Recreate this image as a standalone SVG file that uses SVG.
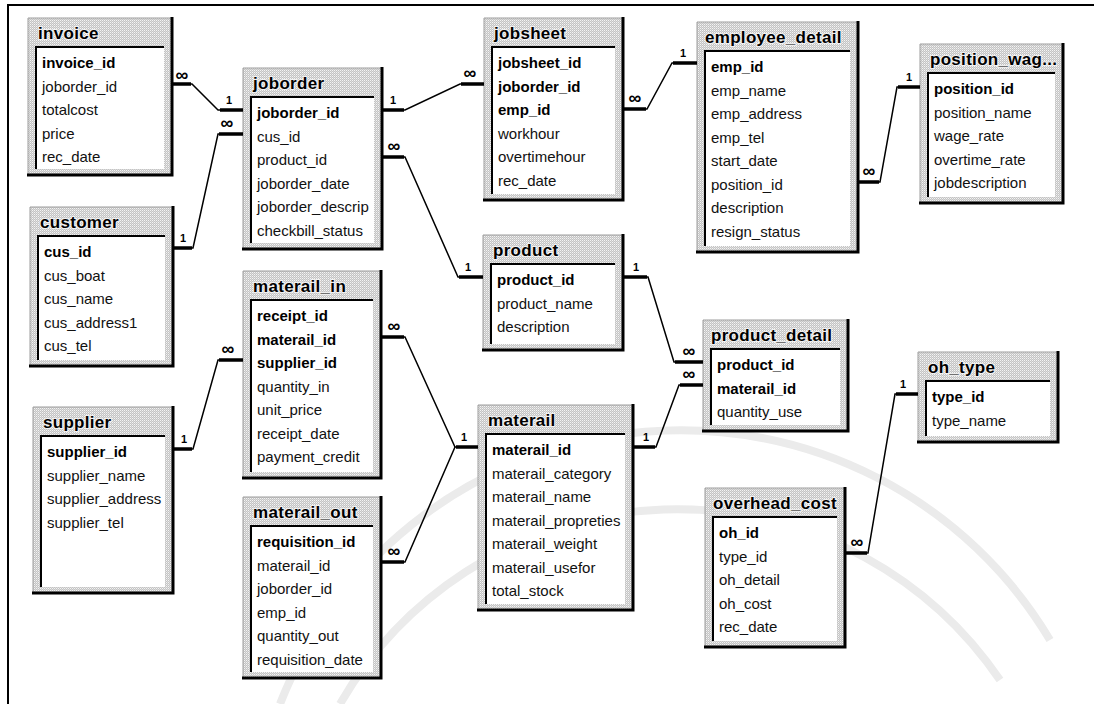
<svg xmlns="http://www.w3.org/2000/svg" width="1094" height="704" viewBox="0 0 1094 704">
<defs>
<pattern id="dith" width="2" height="2" patternUnits="userSpaceOnUse"><rect width="2" height="2" fill="#c4c4c4"/><rect width="1" height="1" fill="#f4f4f4"/><rect x="1" y="1" width="1" height="1" fill="#dadada"/></pattern>
<style>
.frame{fill:url(#dith)}
.list{fill:#fff}
.edge{fill:none;stroke:#9c9c9c;stroke-width:1}
.inset{fill:none;stroke:#000;stroke-width:2}
.shadow{fill:none;stroke:#000;stroke-width:3}
.t{font-family:"Liberation Sans",Arial,sans-serif;font-size:17px;font-weight:bold;letter-spacing:0.3px;fill:#000;stroke:#f2f2f2;stroke-width:2;paint-order:stroke}
.f{font-family:"Liberation Sans",Arial,sans-serif;font-size:15px;fill:#111}
.k{font-weight:bold;fill:#000}
.rel{fill:none;stroke:#000;stroke-width:1.5}
.end{fill:none;stroke:#000;stroke-width:3.5}
.one{font-family:"Liberation Sans",Arial,sans-serif;font-size:11px;font-weight:bold;text-anchor:middle}
.many{font-family:"Liberation Sans",Arial,sans-serif;font-size:18px;font-weight:bold;text-anchor:middle}
.wm{fill:none;stroke:#ebebeb;stroke-width:8}
.border{fill:none;stroke:#000;stroke-width:2}
</style>
</defs>
<rect width="1094" height="704" fill="#fff"/>
<g id="watermark">
<path class="wm" d="M 280 704 A 430 430 0 0 1 1050 640"/>
<path class="wm" d="M 340 704 A 390 390 0 0 1 1000 680"/>
</g>
<path class="border" d="M 8 704 V 5 H 1094"/>

<g id="invoice">
<rect class="frame" x="28" y="18" width="144" height="157"/>
<rect class="list" x="36" y="47" width="128" height="122"/>
<path class="edge" d="M28 175V18H172"/>
<path class="inset" d="M36 169V47H164"/>
<path class="shadow" d="M172 17V175H27"/>
<text class="t" x="38" y="39">invoice</text>
<text class="f k" x="42" y="68">invoice_id</text>
<text class="f" x="42" y="91.5">joborder_id</text>
<text class="f" x="42" y="115">totalcost</text>
<text class="f" x="42" y="138.5">price</text>
<text class="f" x="42" y="162">rec_date</text>
</g>

<g id="joborder">
<rect class="frame" x="243" y="68" width="139" height="181"/>
<rect class="list" x="251" y="97" width="123" height="146"/>
<path class="edge" d="M243 249V68H382"/>
<path class="inset" d="M251 243V97H374"/>
<path class="shadow" d="M382 67V249H242"/>
<text class="t" x="253" y="89">joborder</text>
<text class="f k" x="257" y="118">joborder_id</text>
<text class="f" x="257" y="141.5">cus_id</text>
<text class="f" x="257" y="165">product_id</text>
<text class="f" x="257" y="188.5">joborder_date</text>
<text class="f" x="257" y="212">joborder_descrip</text>
<text class="f" x="257" y="235.5">checkbill_status</text>
</g>

<g id="customer">
<rect class="frame" x="30" y="207" width="143" height="159"/>
<rect class="list" x="38" y="236" width="127" height="124"/>
<path class="edge" d="M30 366V207H173"/>
<path class="inset" d="M38 360V236H165"/>
<path class="shadow" d="M173 206V366H29"/>
<text class="t" x="40" y="228">customer</text>
<text class="f k" x="44" y="257">cus_id</text>
<text class="f" x="44" y="280.5">cus_boat</text>
<text class="f" x="44" y="304">cus_name</text>
<text class="f" x="44" y="327.5">cus_address1</text>
<text class="f" x="44" y="351">cus_tel</text>
</g>

<g id="supplier">
<rect class="frame" x="33" y="407" width="140" height="186"/>
<rect class="list" x="41" y="436" width="124" height="151"/>
<path class="edge" d="M33 593V407H173"/>
<path class="inset" d="M41 587V436H165"/>
<path class="shadow" d="M173 406V593H32"/>
<text class="t" x="43" y="428">supplier</text>
<text class="f k" x="47" y="457">supplier_id</text>
<text class="f" x="47" y="480.5">supplier_name</text>
<text class="f" x="47" y="504">supplier_address</text>
<text class="f" x="47" y="527.5">supplier_tel</text>
</g>

<g id="materail_in">
<rect class="frame" x="243" y="271" width="138" height="207"/>
<rect class="list" x="251" y="300" width="122" height="172"/>
<path class="edge" d="M243 478V271H381"/>
<path class="inset" d="M251 472V300H373"/>
<path class="shadow" d="M381 270V478H242"/>
<text class="t" x="253" y="292">materail_in</text>
<text class="f k" x="257" y="321">receipt_id</text>
<text class="f k" x="257" y="344.5">materail_id</text>
<text class="f k" x="257" y="368">supplier_id</text>
<text class="f" x="257" y="391.5">quantity_in</text>
<text class="f" x="257" y="415">unit_price</text>
<text class="f" x="257" y="438.5">receipt_date</text>
<text class="f" x="257" y="462">payment_credit</text>
</g>

<g id="materail_out">
<rect class="frame" x="243" y="497" width="138" height="181"/>
<rect class="list" x="251" y="526" width="122" height="146"/>
<path class="edge" d="M243 678V497H381"/>
<path class="inset" d="M251 672V526H373"/>
<path class="shadow" d="M381 496V678H242"/>
<text class="t" x="253" y="518">materail_out</text>
<text class="f k" x="257" y="547">requisition_id</text>
<text class="f" x="257" y="570.5">materail_id</text>
<text class="f" x="257" y="594">joborder_id</text>
<text class="f" x="257" y="617.5">emp_id</text>
<text class="f" x="257" y="641">quantity_out</text>
<text class="f" x="257" y="664.5">requisition_date</text>
</g>

<g id="jobsheet">
<rect class="frame" x="484" y="18" width="139" height="182"/>
<rect class="list" x="492" y="47" width="123" height="147"/>
<path class="edge" d="M484 200V18H623"/>
<path class="inset" d="M492 194V47H615"/>
<path class="shadow" d="M623 17V200H483"/>
<text class="t" x="494" y="39">jobsheet</text>
<text class="f k" x="498" y="68">jobsheet_id</text>
<text class="f k" x="498" y="91.5">joborder_id</text>
<text class="f k" x="498" y="115">emp_id</text>
<text class="f" x="498" y="138.5">workhour</text>
<text class="f" x="498" y="162">overtimehour</text>
<text class="f" x="498" y="185.5">rec_date</text>
</g>

<g id="product">
<rect class="frame" x="483" y="235" width="140" height="115"/>
<rect class="list" x="491" y="264" width="124" height="80"/>
<path class="edge" d="M483 350V235H623"/>
<path class="inset" d="M491 344V264H615"/>
<path class="shadow" d="M623 234V350H482"/>
<text class="t" x="493" y="256">product</text>
<text class="f k" x="497" y="285">product_id</text>
<text class="f" x="497" y="308.5">product_name</text>
<text class="f" x="497" y="332">description</text>
</g>

<g id="employee_detail">
<rect class="frame" x="697" y="22" width="161" height="230"/>
<rect class="list" x="705" y="51" width="145" height="195"/>
<path class="edge" d="M697 252V22H858"/>
<path class="inset" d="M705 246V51H850"/>
<path class="shadow" d="M858 21V252H696"/>
<text class="t" x="705" y="43">employee_detail</text>
<text class="f k" x="711" y="72">emp_id</text>
<text class="f" x="711" y="95.5">emp_name</text>
<text class="f" x="711" y="119">emp_address</text>
<text class="f" x="711" y="142.5">emp_tel</text>
<text class="f" x="711" y="166">start_date</text>
<text class="f" x="711" y="189.5">position_id</text>
<text class="f" x="711" y="213">description</text>
<text class="f" x="711" y="236.5">resign_status</text>
</g>

<g id="position_wage">
<rect class="frame" x="920" y="44" width="143" height="159"/>
<rect class="list" x="928" y="73" width="127" height="124"/>
<path class="edge" d="M920 203V44H1063"/>
<path class="inset" d="M928 197V73H1055"/>
<path class="shadow" d="M1063 43V203H919"/>
<text class="t" x="930" y="65">position_wag...</text>
<text class="f k" x="934" y="94">position_id</text>
<text class="f" x="934" y="117.5">position_name</text>
<text class="f" x="934" y="141">wage_rate</text>
<text class="f" x="934" y="164.5">overtime_rate</text>
<text class="f" x="934" y="188">jobdescription</text>
</g>

<g id="product_detail">
<rect class="frame" x="703" y="320" width="145" height="111"/>
<rect class="list" x="711" y="349" width="129" height="76"/>
<path class="edge" d="M703 431V320H848"/>
<path class="inset" d="M711 425V349H840"/>
<path class="shadow" d="M848 319V431H702"/>
<text class="t" x="711" y="341">product_detail</text>
<text class="f k" x="717" y="370">product_id</text>
<text class="f k" x="717" y="393.5">materail_id</text>
<text class="f" x="717" y="417">quantity_use</text>
</g>

<g id="materail">
<rect class="frame" x="478" y="405" width="155" height="205"/>
<rect class="list" x="486" y="434" width="139" height="170"/>
<path class="edge" d="M478 610V405H633"/>
<path class="inset" d="M486 604V434H625"/>
<path class="shadow" d="M633 404V610H477"/>
<text class="t" x="488" y="426">materail</text>
<text class="f k" x="492" y="455">materail_id</text>
<text class="f" x="492" y="478.5">materail_category</text>
<text class="f" x="492" y="502">materail_name</text>
<text class="f" x="492" y="525.5">materail_propreties</text>
<text class="f" x="492" y="549">materail_weight</text>
<text class="f" x="492" y="572.5">materail_usefor</text>
<text class="f" x="492" y="596">total_stock</text>
</g>

<g id="overhead_cost">
<rect class="frame" x="705" y="488" width="140" height="159"/>
<rect class="list" x="713" y="517" width="124" height="124"/>
<path class="edge" d="M705 647V488H845"/>
<path class="inset" d="M713 641V517H837"/>
<path class="shadow" d="M845 487V647H704"/>
<text class="t" x="713" y="509">overhead_cost</text>
<text class="f k" x="719" y="538">oh_id</text>
<text class="f" x="719" y="561.5">type_id</text>
<text class="f" x="719" y="585">oh_detail</text>
<text class="f" x="719" y="608.5">oh_cost</text>
<text class="f" x="719" y="632">rec_date</text>
</g>

<g id="oh_type">
<rect class="frame" x="918" y="352" width="140" height="90"/>
<rect class="list" x="926" y="381" width="124" height="55"/>
<path class="edge" d="M918 442V352H1058"/>
<path class="inset" d="M926 436V381H1050"/>
<path class="shadow" d="M1058 351V442H917"/>
<text class="t" x="928" y="373">oh_type</text>
<text class="f k" x="932" y="402">type_id</text>
<text class="f" x="932" y="425.5">type_name</text>
</g>

<g id="connectors">
<polyline class="rel" points="172,84 192,84 218,110 243,110"/>
<path class="end" d="M172 84H191M220 110H243"/>
<text class="many" x="182" y="81">∞</text>
<text class="one" x="229" y="104">1</text>

<polyline class="rel" points="173,248 193,248 218,134 243,134"/>
<path class="end" d="M173 248H192M219 134H243"/>
<text class="one" x="183" y="242">1</text>
<text class="many" x="227" y="129">∞</text>

<polyline class="rel" points="382,110 405,110 460,84 484,84"/>
<path class="end" d="M382 110H404M461 84H484"/>
<text class="one" x="393" y="104">1</text>
<text class="many" x="470" y="79">∞</text>

<polyline class="rel" points="382,157 405,157 458,277 483,277"/>
<path class="end" d="M382 157H404M459 277H483"/>
<text class="many" x="394" y="152">∞</text>
<text class="one" x="468" y="271">1</text>

<polyline class="rel" points="623,109 647,109 672,63 697,63"/>
<path class="end" d="M623 109H646M673 63H697"/>
<text class="many" x="635" y="104">∞</text>
<text class="one" x="683" y="57">1</text>

<polyline class="rel" points="858,182 880,182 897,87 920,87"/>
<path class="end" d="M858 182H879M898 87H920"/>
<text class="many" x="869" y="177">∞</text>
<text class="one" x="909" y="81">1</text>

<polyline class="rel" points="623,277 648,277 674,362 703,362"/>
<path class="end" d="M623 277H647M675 362H703"/>
<text class="one" x="636" y="271">1</text>
<text class="many" x="689" y="357">∞</text>

<polyline class="rel" points="633,447 656,447 679,385 703,385"/>
<path class="end" d="M633 447H655M680 385H703"/>
<text class="one" x="646" y="441">1</text>
<text class="many" x="689" y="380">∞</text>

<polyline class="rel" points="381,337 405,337 455,447 478,447"/>
<path class="end" d="M381 337H404M456 447H478"/>
<text class="many" x="394" y="332">∞</text>
<text class="one" x="464" y="441">1</text>

<polyline class="rel" points="381,562 405,562 455,447"/>
<path class="end" d="M381 562H404"/>
<text class="many" x="394" y="557">∞</text>

<polyline class="rel" points="173,449 193,449 218,360 243,360"/>
<path class="end" d="M173 449H192M219 360H243"/>
<text class="one" x="184" y="443">1</text>
<text class="many" x="228" y="355">∞</text>

<polyline class="rel" points="845,553 868,553 895,394 918,394"/>
<path class="end" d="M845 553H867M896 394H918"/>
<text class="many" x="857" y="548">∞</text>
<text class="one" x="903" y="388">1</text>
</g>
</svg>
